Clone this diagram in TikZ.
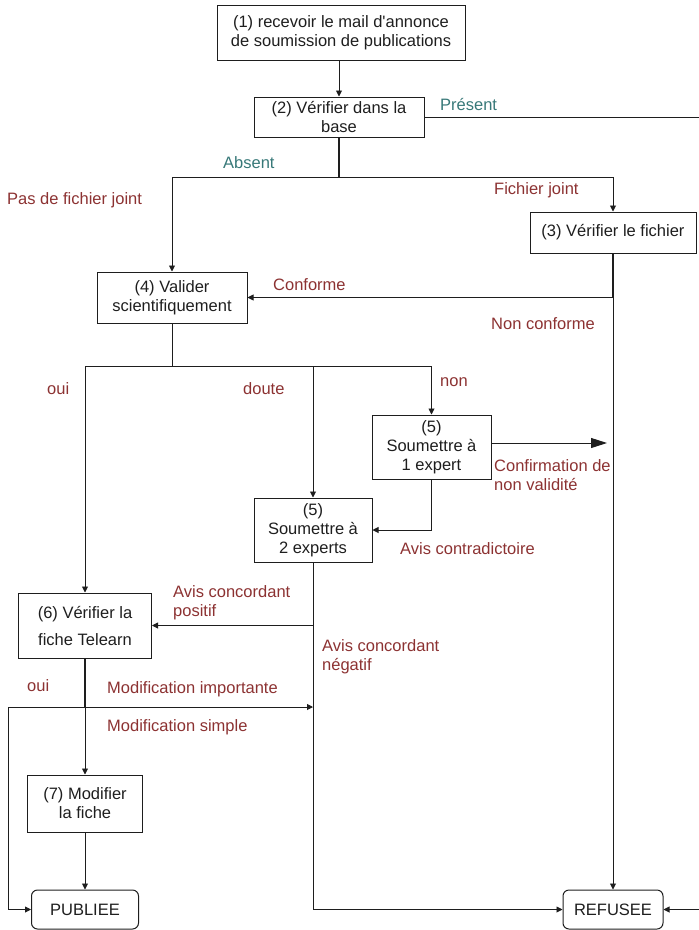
\documentclass[tikz,border=0pt]{standalone}
\usepackage{fontspec}
\setmainfont{Liberation Sans}
\usetikzlibrary{arrows.meta}
\definecolor{lblred}{RGB}{140,50,50}
\definecolor{lblteal}{RGB}{55,120,120}
\definecolor{ink}{RGB}{30,30,30}
\begin{document}
\begin{tikzpicture}[x=1pt,y=-1pt,
  font=\fontsize{16.5}{19}\selectfont,
  box/.style={draw=ink, line width=1pt, inner sep=0pt, align=center, text=ink},
  term/.style={box, rounded corners=6pt},
  conn/.style={draw=ink, line width=0.9pt},
  arr/.style={conn, -{Triangle[length=6pt,width=6pt]}},
  bigarr/.style={conn, -{Triangle[length=16pt,width=10pt]}},
  thk/.style={draw=ink, line width=2.2pt},
  lr/.style={text=lblred, anchor=west, inner sep=0pt, align=left},
  lt/.style={text=lblteal, anchor=west, inner sep=0pt},
]
\useasboundingbox (0,0) rectangle (699,930);

% boxes
\node[box, minimum width=248pt, minimum height=55pt] (b1) at (341,32.5) {(1) recevoir le mail d\textquotesingle annonce\\de soumission de publications};
\node[box, minimum width=170pt, minimum height=40pt] (b2) at (339,117) {(2) Vérifier dans la\\base};
\node[box, minimum width=166pt, minimum height=41pt] (b3) at (613,232.5) {(3) Vérifier le fichier};
\node[box, minimum width=150pt, minimum height=51pt] (b4) at (172,297.5) {(4) Valider\\scientifiquement};
\node[box, minimum width=119pt, minimum height=64pt] (b5a) at (431.5,447) {(5)\\Soumettre à\\1 expert};
\node[box, minimum width=118pt, minimum height=64pt] (b5b) at (313,530) {(5)\\Soumettre à\\2 experts};
\node[box, minimum width=133pt, minimum height=65pt] (b6) at (85,625.5) {(6) Vérifier la\\[8pt]fiche Telearn};
\node[box, minimum width=115pt, minimum height=57pt] (b7) at (85,803.5) {(7) Modifier\\la fiche};
\node[term, minimum width=107pt, minimum height=39pt] (pub) at (85,909.5) {PUBLIEE};
\node[term, minimum width=100pt, minimum height=39pt] (ref) at (613,909.5) {REFUSEE};

% junctions
\coordinate (j1) at (339,177);
\coordinate (j2) at (613,297.5);
\coordinate (j3) at (172,366);
\coordinate (j5) at (85,707);
\coordinate (c5) at (607,443);
\coordinate (pR) at (712,117);
\coordinate (lft) at (8,707);

% connectors
\draw[arr] (b1.south -| b2.north) -- (b2.north);
\draw[thk] (b2.south) -- (j1);
\draw[arr] (j1) -| (b4.north);
\draw[arr] (j1) -| (b3.north);
\draw[arr] (b2.east) -- (pR) |- (ref.east);
\draw[thk] (b3.south) -- (j2);
\draw[arr] (j2) -- (b4.east);
\draw[arr] (j2) -- (ref.north);
\draw[conn] (b4.south) -- (j3);
\draw[arr] (j3) -| (b6.north);
\draw[arr] (j3) -| (b5a.north);
\draw[arr] (j3 -| b5b.north) -- (b5b.north);
\draw[bigarr] (c5 -| b5a.east) -- (c5);
\draw[arr] (b5a.south) |- (b5b.east);
\draw[arr] (b5b.south) |- (ref.west);
\draw[arr] (b6.east -| b5b.south) -- (b6.east);
\draw[thk] (b6.south) -- (j5);
\draw[arr] (j5) -- (j5 -| b5b.south);
\draw[arr] (j5) -- (lft) |- (pub.west);
\draw[arr] (j5) -- (b7.north);
\draw[arr] (b7.south) -- (pub.north);

% labels
\node[lt] (lpres) at (440,105) {Présent};
\node[lt] (labs) at (223,163) {Absent};
\node[lr] (lfj) at (494,190) {Fichier joint};
\node[lr] (lpfj) at (7,200) {Pas de fichier joint};
\node[lr] (lconf) at (273,285) {Conforme};
\node[lr] (lnc) at (491,324) {Non conforme};
\node[lr] (loui1) at (47,389) {oui};
\node[lr] (ldoute) at (243,389) {doute};
\node[lr] (lnon) at (440,382) {non};
\node[lr] (lconfirm) at (494,475) {Confirmation de\\non validité};
\node[lr] (lcontra) at (400,549) {Avis contradictoire};
\node[lr] (lpos) at (173,603) {Avis concordant\\positif};
\node[lr] (lneg) at (322,656.5) {Avis concordant\\négatif};
\node[lr] (loui2) at (27,686) {oui};
\node[lr] (lmi) at (107,689) {Modification importante};
\node[lr] (lms) at (107,727) {Modification simple};
\end{tikzpicture}
\end{document}
